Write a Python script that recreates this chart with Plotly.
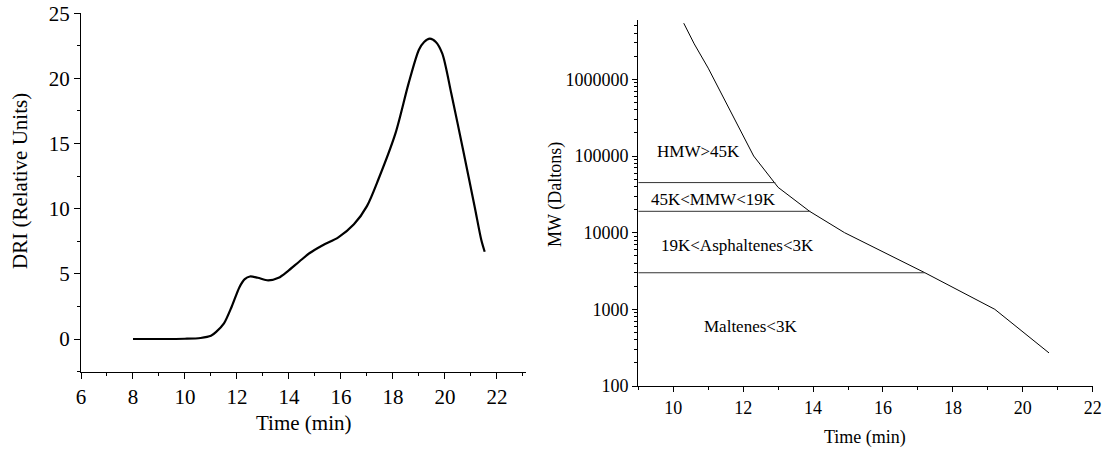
import math
import plotly.graph_objects as go

# Left panel: DRI chromatogram
dri_time = [8, 9, 10, 10.6, 11.0, 11.2, 11.5, 11.8, 12.1, 12.3, 12.5, 12.8, 13.2, 13.6, 13.95,
            14.4, 14.8, 15.3, 15.9, 16.5, 17.0, 17.45, 18.1, 18.6, 19.0, 19.2, 19.42, 19.65,
            19.9, 20.25, 20.7, 21.15, 21.4, 21.53]
dri_value = [0, 0, 0.02, 0.08, 0.25, 0.55, 1.2, 2.5, 4.0, 4.6, 4.8, 4.7, 4.5, 4.7, 5.2,
             5.95, 6.6, 7.2, 7.8, 8.8, 10.2, 12.3, 15.8, 19.6, 22.2, 22.8, 23.05, 22.8,
             21.9, 18.8, 14.5, 10.1, 7.6, 6.7]
dri_ticks = [0, 5, 10, 15, 20, 25]

# Right panel: molecular weight calibration
mw_time = [10.3, 10.6, 11.0, 11.3, 11.6, 11.95, 12.3, 13.0, 13.9, 14.9, 17.2, 19.2, 20.75]
mw_value = [5.4e6, 2.9e6, 1.4e6, 7.6e5, 4.2e5, 2.1e5, 1.0e5, 3.9e4, 1.9e4, 1.0e4, 3.0e3, 1.0e3, 2.7e2]

# Cut-off lines
cut_values = [45000, 19000, 3000]
cut_start = [9, 9, 9]
cut_end = [12.92, 13.92, 17.2]

# Region labels
label_text = ["HMW>45K", "45K<MMW<19K", "19K<Asphaltenes<3K", "Maltenes<3K"]
label_time = [10.72, 11.14, 11.84, 12.21]
label_mw = [1.14e5, 2.72e4, 6.9e3, 5.9e2]

mw_ticks = [100, 1000, 10000, 100000, 1000000]
mw_ticktext = ["100", "1000", "10000", "100000", "1000000"]
mw_minor = [k * 10 ** d for d in range(2, 7) for k in range(2, 10)]

FONT = "Liberation Serif"
W, H = 1110, 453


def fx(px):
    return px / W


def fy(py):
    return 1 - py / H


fig = go.Figure()

fig.add_trace(go.Scatter(x=dri_time, y=dri_value, mode="lines",
                         line=dict(color="black", width=2.2, shape="spline", smoothing=0.8),
                         xaxis="x", yaxis="y", showlegend=False))

fig.add_trace(go.Scatter(x=mw_time, y=mw_value, mode="lines",
                         line=dict(color="black", width=1),
                         xaxis="x2", yaxis="y2", showlegend=False))

for v, s, e in zip(cut_values, cut_start, cut_end):
    fig.add_trace(go.Scatter(x=[s, e], y=[v, v], mode="lines",
                             line=dict(color="#333333", width=1),
                             xaxis="x2", yaxis="y2", showlegend=False))

annotations = []
for t, x, y in zip(label_text, label_time, label_mw):
    annotations.append(dict(text=t, x=x, y=math.log10(y), xref="x2", yref="y2",
                            xanchor="center", yanchor="middle",
                            showarrow=False, font=dict(family=FONT, size=17, color="black")))


def title_ann(text, px, py, size, angle=0):
    return dict(text=text, x=fx(px), y=fy(py), xref="paper", yref="paper",
                xanchor="center", yanchor="middle", textangle=angle,
                showarrow=False, font=dict(family=FONT, size=size, color="black"))


annotations += [
    title_ann("Time (min)", 303, 423, 21),
    title_ann("DRI (Relative Units)", 20, 181, 21, -90),
    title_ann("Time (min)", 865, 437, 18),
    title_ann("MW (Daltons)", 555, 195, 18, -90),
]

axis_common = dict(showgrid=False, zeroline=False, showline=True, linecolor="black",
                   linewidth=1.2, ticks="outside", tickcolor="black", tickwidth=1.2,
                   mirror=False, automargin=False, ticklabeloverflow="allow")

fig.update_layout(
    width=W, height=H, autosize=False,
    margin=dict(l=0, r=0, t=0, b=0, pad=0, autoexpand=False),
    paper_bgcolor="white", plot_bgcolor="white",
    font=dict(family=FONT, color="black"),
    showlegend=False,
    xaxis=dict(domain=[fx(81), fx(525.5)], range=[6, 23.1], dtick=2, tick0=6,
               ticklen=6, tickfont=dict(family=FONT, size=21, color="black"),
               minor=dict(dtick=1, tick0=6, ticklen=3, ticks="outside", tickcolor="black"),
               anchor="y", **axis_common),
    yaxis=dict(domain=[fy(371.6), fy(13)], range=[-2.5, 25.02],
               tickmode="array", tickvals=dri_ticks,
               ticklen=6, tickfont=dict(family=FONT, size=21, color="black"),
               minor=dict(dtick=2.5, tick0=0, ticklen=3, ticks="outside", tickcolor="black"),
               anchor="x", **axis_common),
    xaxis2=dict(domain=[fx(638.3), fx(1092.7)], range=[9, 22], dtick=2, tick0=10,
                ticklen=5, tickfont=dict(family=FONT, size=18, color="black"),
                minor=dict(dtick=1, tick0=9, ticklen=3, ticks="outside", tickcolor="black"),
                anchor="y2", **axis_common),
    yaxis2=dict(domain=[fy(386), fy(20)], type="log", range=[2, 6.774],
                tickmode="array", tickvals=mw_ticks, ticktext=mw_ticktext,
                ticklen=5, tickfont=dict(family=FONT, size=18, color="black"),
                minor=dict(tickmode="array", tickvals=mw_minor, ticklen=3, ticks="outside",
                           tickcolor="black"),
                anchor="x2", **axis_common),
    annotations=annotations,
)

fig.write_html("out.html", config={"displayModeBar": False},
               post_script="document.body.style.margin='0';")
